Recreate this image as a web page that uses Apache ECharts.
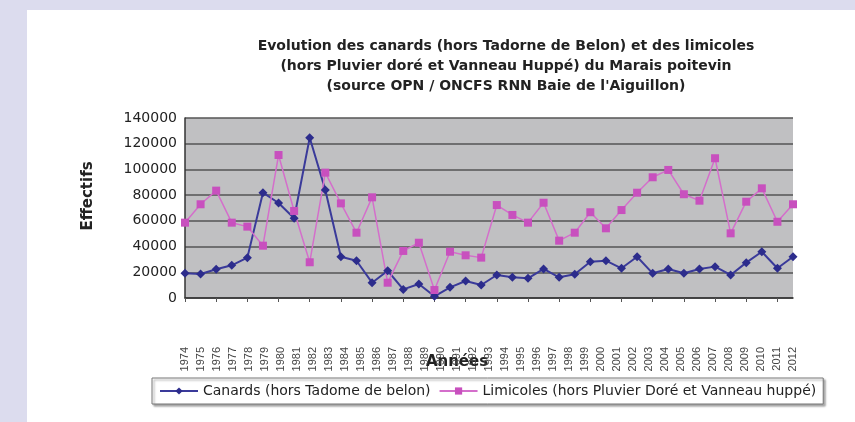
<!DOCTYPE html>
<html>
<head>
<meta charset="utf-8">
<script src="https://cdn.jsdelivr.net/npm/echarts@6/dist/echarts.min.js"></script>
<style>
  html, body { margin: 0; padding: 0; background: #dcdcee; }
  #panel { position: absolute; left: 27px; top: 10px; right: 0; bottom: 0; background: #fff; }
  #chart { position: absolute; left: 0; top: 0; width: 855px; height: 422px; }
</style>
</head>
<body>
<div id="panel"></div>
<div id="chart"></div>
<script>
  // libellés de l'axe des abscisses (39 années)
  var years = [];
  for (var y = 1974; y <= 2012; y++) years.push(String(y));

  // comptages (40 points tracés)
  var canards = [19200, 18700, 22300, 25400, 31400, 81900, 73900, 62000, 124700, 84000,
    32100, 29000, 11900, 21200, 6700, 10900, 1300, 8300, 13200, 10100,
    17900, 16100, 15300, 22600, 16100, 18400, 28200, 29000, 23100, 32100,
    19200, 22600, 19200, 22600, 24400, 17900, 27500, 36000, 23100, 32100];
  var limicoles = [58600, 72900, 83500, 58600, 55500, 40700, 111200, 67700, 27800, 97500,
    73600, 50800, 78300, 11900, 36600, 43000, 6200, 36000, 33200, 31400,
    72300, 64600, 58600, 74100, 44600, 50800, 66700, 54200, 68400, 81900,
    93900, 99600, 80700, 75700, 108700, 50300, 74900, 85300, 59300, 72900];

  var nomCanards = 'Canards (hors Tadome de belon)';
  var nomLimicoles = 'Limicoles (hors Pluvier Doré et Vanneau huppé)';
  var points = canards.map(function (v, i) { return String(i); });

  var myChart = echarts.init(document.getElementById('chart'));
  var font = 'DejaVu Sans, Arial, sans-serif';
  var fontEtroit = 'Liberation Sans, Arial, sans-serif';

  var option = {
    animation: false,
    textStyle: { fontFamily: font },
    title: {
      text: 'Evolution des canards (hors Tadorne de Belon) et des limicoles\n(hors Pluvier doré et Vanneau Huppé) du Marais poitevin\n(source OPN / ONCFS RNN Baie de l\'Aiguillon)',
      left: 501,
      top: 31,
      textAlign: 'center',
      textStyle: { fontSize: 14, fontWeight: 'bold', color: '#222', lineHeight: 20, fontFamily: font }
    },
    graphic: [
      {
        type: 'text', x: 88, y: 196, rotation: Math.PI / 2,
        style: { text: 'Effectifs', font: 'bold 15px ' + font, fill: '#222', align: 'center', verticalAlign: 'middle' }
      },
      {
        type: 'text', x: 457, y: 362,
        style: { text: 'Années', font: 'bold 15px ' + font, fill: '#222', align: 'center', verticalAlign: 'middle' }
      }
    ],
    legend: {
      left: 152,
      top: 378,
      padding: [6, 7],
      itemGap: 8,
      itemWidth: 38,
      itemHeight: 9,
      backgroundColor: '#fff',
      borderColor: '#777',
      borderWidth: 1,
      shadowColor: 'rgba(0,0,0,0.35)',
      shadowOffsetX: 2,
      shadowOffsetY: 2,
      shadowBlur: 2,
      textStyle: { fontSize: 14, color: '#222', fontFamily: font },
      data: [nomCanards, nomLimicoles]
    },
    grid: {
      left: 185,
      right: 62,
      top: 118,
      bottom: 124,
      show: true,
      backgroundColor: '#c0c0c2',
      borderWidth: 0
    },
    xAxis: [
      {
        type: 'category',
        data: points,
        boundaryGap: false,
        axisLine: { lineStyle: { color: '#333', width: 1.5 } },
        axisTick: { show: true, inside: false, length: 4, lineStyle: { color: '#555' } },
        axisLabel: { show: false }
      },
      {
        type: 'category',
        data: years,
        position: 'bottom',
        boundaryGap: false,
        axisLine: { show: false },
        axisTick: { show: false },
        axisLabel: {
          rotate: 90,
          interval: 0,
          margin: 49,
          fontSize: 11,
          color: '#444',
          fontFamily: fontEtroit
        }
      }
    ],
    yAxis: {
      type: 'value',
      min: 0,
      max: 140000,
      interval: 20000,
      axisLine: { show: true, lineStyle: { color: '#333', width: 1.5 } },
      axisTick: { show: false },
      axisLabel: {
        margin: 8,
        fontSize: 14,
        color: '#222',
        fontFamily: font,
        formatter: function (v) { return String(v); }
      },
      splitLine: { lineStyle: { color: '#555', width: 1.5 } }
    },
    series: [
      {
        name: nomCanards,
        type: 'line',
        xAxisIndex: 0,
        data: canards,
        symbol: 'diamond',
        symbolSize: 9,
        itemStyle: { color: '#2c2c8c' },
        lineStyle: { width: 2, color: '#3a3a9a' }
      },
      {
        name: nomLimicoles,
        type: 'line',
        xAxisIndex: 0,
        data: limicoles,
        symbol: 'rect',
        symbolSize: 8,
        itemStyle: { color: '#c850be' },
        lineStyle: { width: 1.5, color: '#d46ecb' }
      }
    ]
  };
  myChart.setOption(option);
</script>
</body>
</html>
